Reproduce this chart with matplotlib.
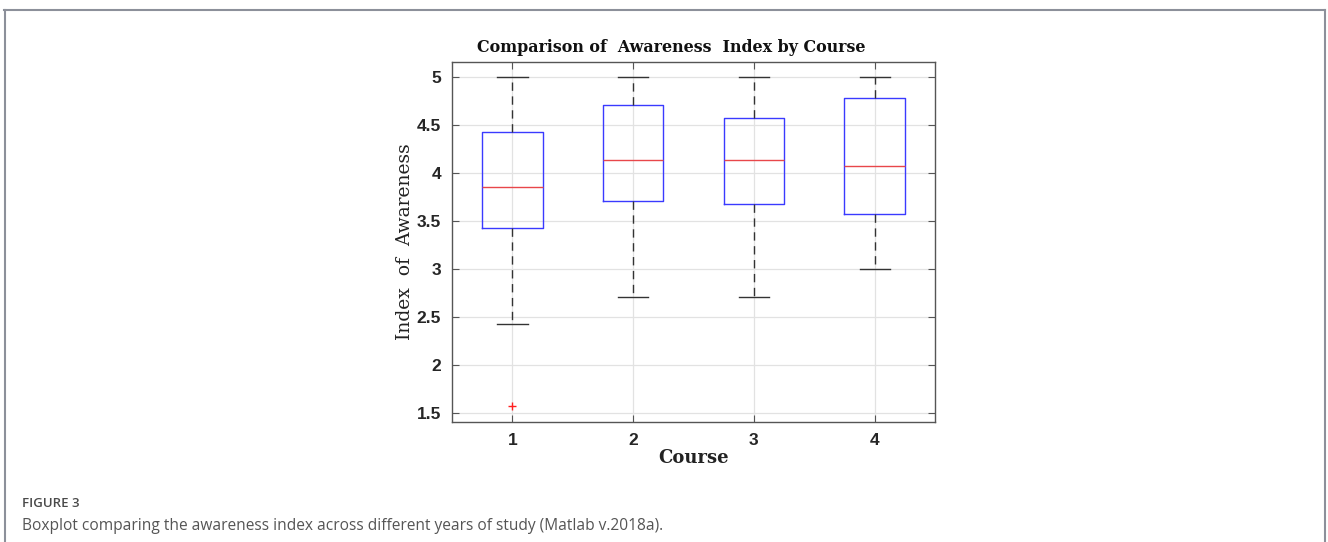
import numpy as np
import matplotlib.pyplot as plt
from matplotlib.lines import Line2D

# boxplot summary per course (index of awareness)
courses = [1, 2, 3, 4]
q1 = [3.428, 3.714, 3.679, 3.571]
med = [3.857, 4.143, 4.143, 4.071]
q3 = [4.428, 4.714, 4.571, 4.786]
wlo = [2.428, 2.714, 2.714, 3.0]
whi = [5.0, 5.0, 5.0, 5.0]
fliers = [[1.571], [], [], []]

fig = plt.figure(figsize=(13.28, 5.42), dpi=100)

# outer frame, open at the bottom
frame_col = "#8c909a"
fig.add_artist(Line2D([0.003, 0.998], [0.981, 0.981], transform=fig.transFigure, color=frame_col, lw=1.5))
fig.add_artist(Line2D([0.0035, 0.0035], [0.0, 0.981], transform=fig.transFigure, color=frame_col, lw=1.5))
fig.add_artist(Line2D([0.9975, 0.9975], [0.0, 0.981], transform=fig.transFigure, color=frame_col, lw=1.5))

ax = fig.add_axes([0.3404, 0.222, 0.3637, 0.6636])

stats = []
for i in range(len(courses)):
    stats.append(dict(med=med[i], q1=q1[i], q3=q3[i], whislo=wlo[i], whishi=whi[i],
                      fliers=fliers[i], label=str(courses[i])))

ax.bxp(stats, positions=courses, widths=0.5, showfliers=True,
       boxprops=dict(color="#3a3aff", lw=1.0),
       medianprops=dict(color="#e8474a", lw=1.0),
       whiskerprops=dict(color="#333333", lw=1.0, ls=(0, (6, 4))),
       capprops=dict(color="#333333", lw=1.0),
       capwidths=0.25,
       flierprops=dict(marker="+", markeredgecolor="#ff2020", markersize=6, mew=1.0, ls="none"))

ax.set_xlim(0.5, 4.5)
ax.set_ylim(1.41, 5.16)
ax.set_yticks([1.5, 2, 2.5, 3, 3.5, 4, 4.5, 5])
ax.set_yticklabels(["1.5", "2", "2.5", "3", "3.5", "4", "4.5", "5"])
ax.set_xticks(courses)
ax.set_xticklabels([str(c) for c in courses])
ax.grid(True, color="#e2e2e2", lw=0.9)
ax.set_axisbelow(True)
for s in ax.spines.values():
    s.set_color("#555555")
    s.set_linewidth(1.0)
ax.tick_params(direction="in", length=5, color="#555555", top=True, right=True,
               labelsize=12.5, pad=8)
for lab in ax.get_xticklabels() + ax.get_yticklabels():
    lab.set_fontweight("bold")
    lab.set_fontfamily("Liberation Sans")
    lab.set_color("#262626")

ax.set_title("Comparison of  Awareness  Index by Course", family="DejaVu Serif",
             fontweight="bold", fontsize=11.4, pad=7, color="#111111", x=0.454)
ax.set_ylabel("Index  of  Awareness", family="DejaVu Serif", fontsize=13.5,
              color="#222222", labelpad=2)
ax.set_xlabel("Course", family="DejaVu Serif", fontsize=13, fontweight="bold",
              color="#222222", labelpad=1)

fig.text(0.0165, 0.064, "FIGURE 3", family="Open Sans", fontsize=9.5, color="#4a4a4a",
         fontweight="semibold")
fig.text(0.0165, 0.022, "Boxplot comparing the awareness index across different years of study (Matlab v.2018a).",
         family="Open Sans", fontsize=11.2, color="#555555")

fig.savefig("out.png", dpi=100)
